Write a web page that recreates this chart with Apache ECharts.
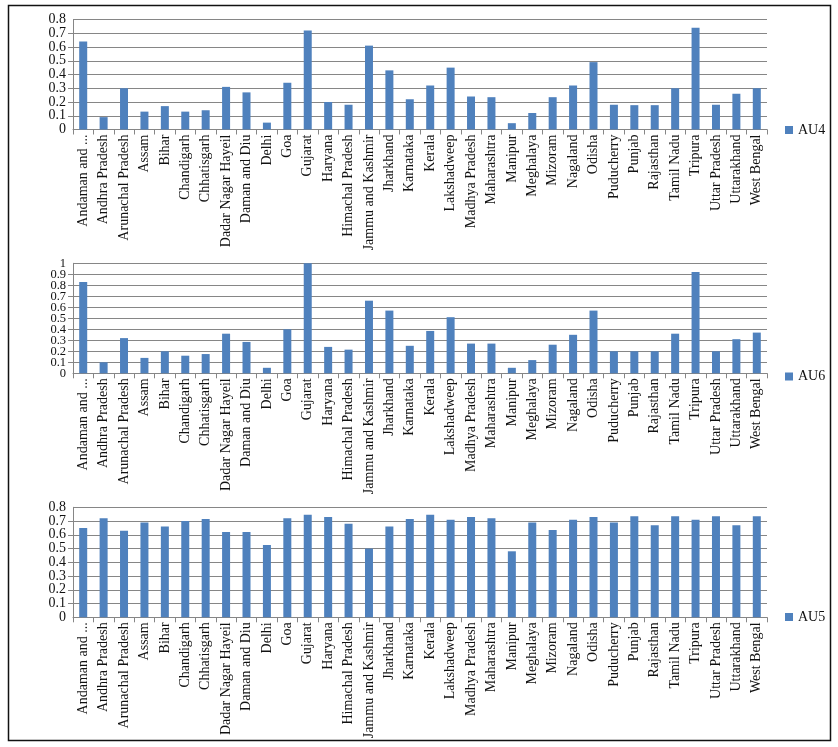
<!DOCTYPE html>
<html>
<head>
<meta charset="utf-8" />
<script src="https://cdn.jsdelivr.net/npm/echarts@6/dist/echarts.min.js"></script>
<title>AU4 / AU6 / AU5 by state</title>
<style>
  html, body { margin: 0; padding: 0; background: #fff; }
  #chart { width: 838px; height: 747px; }
</style>
</head>
<body>
<div id="chart"></div>
<script type="text/javascript">
    var states = ['Andaman and Nicobar Islands', 'Andhra Pradesh', 'Arunachal Pradesh', 'Assam', 'Bihar',
        'Chandigarh', 'Chhatisgarh', 'Dadar Nagar Hayeil', 'Daman and Diu', 'Delhi', 'Goa', 'Gujarat',
        'Haryana', 'Himachal Pradesh', 'Jammu and Kashmir', 'Jharkhand', 'Karnataka', 'Kerala',
        'Lakshadweep', 'Madhya Pradesh', 'Maharashtra', 'Manipur', 'Meghalaya', 'Mizoram', 'Nagaland',
        'Odisha', 'Puducherry', 'Punjab', 'Rajasthan', 'Tamil Nadu', 'Tripura', 'Uttar Pradesh',
        'Uttarakhand', 'West Bengal'];

    var au4 = [0.64, 0.09, 0.30, 0.13, 0.17, 0.13, 0.14, 0.31, 0.27, 0.05, 0.34, 0.72, 0.20, 0.18,
        0.61, 0.43, 0.22, 0.32, 0.45, 0.24, 0.235, 0.046, 0.12, 0.235, 0.32, 0.49, 0.18, 0.177,
        0.177, 0.30, 0.74, 0.18, 0.26, 0.30];
    var au6 = [0.83, 0.10, 0.32, 0.14, 0.20, 0.16, 0.175, 0.36, 0.285, 0.05, 0.40, 1.0, 0.24, 0.215,
        0.66, 0.57, 0.25, 0.385, 0.51, 0.27, 0.27, 0.05, 0.12, 0.26, 0.35, 0.57, 0.20, 0.20,
        0.20, 0.36, 0.92, 0.20, 0.31, 0.37];
    var au5 = [0.65, 0.72, 0.63, 0.69, 0.66, 0.70, 0.715, 0.62, 0.62, 0.526, 0.72, 0.745, 0.73, 0.68,
        0.50, 0.66, 0.715, 0.745, 0.71, 0.73, 0.72, 0.48, 0.69, 0.635, 0.71, 0.73, 0.69, 0.735,
        0.67, 0.735, 0.71, 0.735, 0.67, 0.735];

    var panels = [
        { name: 'AU4', values: au4, max: 0.8, top: 19.5, yFont: 14, legendTop: 118 },
        { name: 'AU6', values: au6, max: 1, top: 263.3, yFont: 12.5, legendTop: 364.5 },
        { name: 'AU5', values: au5, max: 0.8, top: 507.3, yFont: 14, legendTop: 605 }
    ];

    var barColor = '#4f81bd';
    var lineColor = '#868686';
    var font = 'Liberation Serif';

    function shortName(s) {
        return s.length > 20 ? s.slice(0, 12) + '...' : s;
    }

    var option = {
        animation: false,
        backgroundColor: '#fff',
        textStyle: { fontFamily: font, color: '#111' },
        grid: [],
        xAxis: [],
        yAxis: [],
        series: [],
        legend: [],
        graphic: [{
            type: 'rect',
            shape: { x: 8.5, y: 5.5, width: 822, height: 735 },
            style: { fill: 'none', stroke: '#111', lineWidth: 1.5 }
        }]
    };

    panels.forEach(function(p, i) {
        var labelStyle = { fontSize: p.yFont, fontFamily: font, color: '#111', margin: 7 };
        option.grid.push({ left: 73, top: p.top, width: 694, height: 110 });
        option.xAxis.push({
            type: 'category',
            gridIndex: i,
            data: states,
            axisLine: { lineStyle: { color: lineColor } },
            axisTick: { show: true, length: 5, lineStyle: { color: lineColor } },
            axisLabel: {
                rotate: 90,
                interval: 0,
                fontSize: 14,
                fontFamily: font,
                color: '#111',
                margin: 5,
                formatter: shortName
            }
        });
        // main axis: grid, ticks and the inner labels
        option.yAxis.push({
            type: 'value',
            gridIndex: i,
            position: 'left',
            min: 0,
            max: p.max,
            interval: 0.1,
            axisLine: { show: true, lineStyle: { color: lineColor } },
            axisTick: { show: true, length: 5, lineStyle: { color: lineColor } },
            splitLine: { lineStyle: { color: lineColor, width: 1 } },
            axisLabel: Object.assign({ showMinLabel: false, showMaxLabel: false }, labelStyle)
        });
        // second axis only carries the end labels (0 and max) so they are not dropped as overlapping
        option.yAxis.push({
            type: 'value',
            gridIndex: i,
            position: 'left',
            offset: 0,
            min: 0,
            max: p.max,
            interval: p.max,
            axisLine: { show: false },
            axisTick: { show: false },
            splitLine: { show: false },
            axisLabel: labelStyle
        });
        option.series.push({
            name: p.name,
            type: 'bar',
            xAxisIndex: i,
            yAxisIndex: 2 * i,
            data: p.values,
            barWidth: 8,
            itemStyle: { color: barColor }
        });
        option.legend.push({
            data: [p.name],
            left: 780,
            top: p.legendTop,
            icon: 'rect',
            itemWidth: 8,
            itemHeight: 8,
            itemGap: 5,
            textStyle: { fontSize: 14, fontFamily: font, color: '#111' }
        });
    });

    var chart = echarts.init(document.getElementById('chart'));
    chart.setOption(option);
</script>
</body>
</html>
